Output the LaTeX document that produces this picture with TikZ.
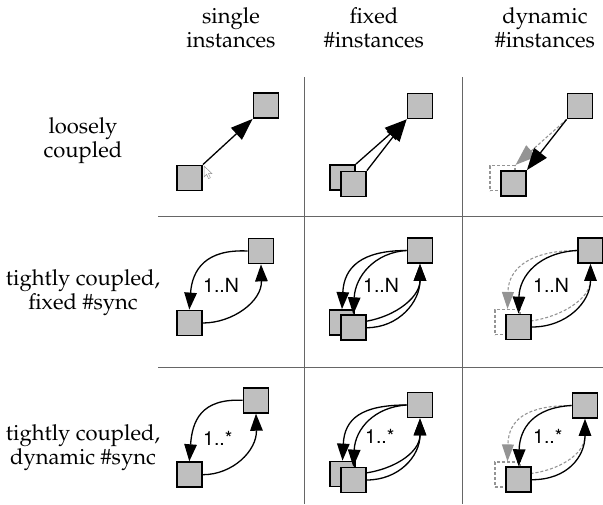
\documentclass[tikz,border=0pt]{standalone}
\usepackage[T1]{fontenc}
\usepackage{mathpazo}
\usepackage{helvet}
\usetikzlibrary{arrows.meta}

\definecolor{boxgray}{gray}{0.75}
\definecolor{ghostgray}{gray}{0.58}
\definecolor{rulegray}{gray}{0.4}

\begin{document}
\begin{tikzpicture}[x=1pt,y=-1pt,
  box/.style={draw=black,fill=boxgray,line width=1.8pt,minimum size=25pt,inner sep=0pt},
  ghost/.style={draw=ghostgray,dash pattern=on 3pt off 2pt,line width=1.2pt,minimum size=25pt,inner sep=0pt},
  msg/.style={line width=1.3pt,-{Triangle[length=22pt,width=16pt]}},
  ghostmsg/.style={draw=ghostgray,line width=1.1pt,dash pattern=on 3pt off 2pt,-{Triangle[length=21pt,width=15pt,fill=ghostgray]}},
  sync/.style={line width=1.3pt,-{Triangle[length=17pt,width=12.5pt]}},
  ghostsync/.style={draw=ghostgray,line width=1.1pt,dash pattern=on 3pt off 2pt,-{Triangle[length=17pt,width=12pt,fill=ghostgray]}},
  rule/.style={draw=rulegray,line width=1pt},
  serif/.style={font=\fontsize{22}{24}\selectfont,anchor=base,inner sep=0pt},
  mult/.style={font=\sffamily\fontsize{19.5}{22}\selectfont,anchor=base west,inner sep=0pt},
  cursor/.style={draw=ghostgray,fill=white,line width=0.5pt}]

\useasboundingbox (0,0) rectangle (603,504);

% table rules
\coordinate (v1t) at (304,77);  \coordinate (v1b) at (304,504);
\coordinate (v2t) at (462,77);  \coordinate (v2b) at (462,504);
\coordinate (h1l) at (158,216); \coordinate (h1r) at (603,216);
\coordinate (h2l) at (158,367); \coordinate (h2r) at (603,367);
\draw[rule] (v1t) -- (v1b);
\draw[rule] (v2t) -- (v2b);
\draw[rule] (h1l) -- (h1r);
\draw[rule] (h2l) -- (h2r);

% column headings
\node[serif] (c1a) at (231,23) {single};
\node[serif] (c1b) at (231,47) {instances};
\node[serif] (c2a) at (374,23) {fixed};
\node[serif] (c2b) at (374,47) {\#instances};
\node[serif] (c3a) at (545,23) {dynamic};
\node[serif] (c3b) at (545,47) {\#instances};

% row headings
\node[serif] (r1a) at (83,133) {loosely};
\node[serif] (r1b) at (83,157) {coupled};
\node[serif] (r2a) at (83,285) {tightly coupled,};
\node[serif] (r2b) at (83,309) {fixed \#sync};
\node[serif] (r3a) at (83,440) {tightly coupled,};
\node[serif] (r3b) at (83,464) {dynamic \#sync};

% ---- loosely coupled ----
% single instances
\node[box] (a1) at (266,105.5) {};
\node[box] (a0) at (189.5,178) {};
\draw[msg] (a0.north east) -- (a1.south west);
\coordinate (cur) at (204,166);
\draw[cursor] (cur) -- ++(0,11) -- ++(2.6,-2.6) -- ++(2,4.2) -- ++(1.8,-0.9) -- ++(-2,-4) -- ++(3.6,0) -- cycle;

% fixed number of instances
\node[box] (b1) at (420,106) {};
\node[box] (b0) at (342.5,177.5) {};
\draw[msg] (b0.north east) -- (b1.south west);
\node[box] (b0f) at (353.5,184) {};
\draw[msg] (b0f.north east) -- (b1.south west);

% dynamic number of instances
\node[box] (c1) at (580,106) {};
\node[ghost] (c0g) at (502.5,178) {};
\draw[ghostmsg] (c1.south west) -- (c0g.north east);
\node[box] (c0) at (513.5,183.5) {};
\draw[msg] (c1.south west) -- (c0.north east);

% ---- tightly coupled, fixed #sync ----
\node[box] (d1) at (261,251) {};
\node[box] (d0) at (189.3,323) {};
\draw[sync] (d1.west) .. controls +(-42,-2) and +(3,-40) .. (d0.north);
\draw[sync] (d0.east) .. controls +(30,0) and +(1,37) .. (d1.south);
\node[mult] (n1) at (203,292.5) {1..N};

\node[box] (e1) at (420,250.5) {};
\node[box] (e0) at (342,322.5) {};
\draw[sync] (e1.west) .. controls +(-45,0) and +(2,-42) .. (e0.north);
\draw[sync] (e0.east) .. controls +(35,-2) and +(0,35) .. (e1.south);
\node[box] (e0f) at (353.3,327.7) {};
\draw[sync] (e1.west) .. controls +(-32,2) and +(2,-38) .. (e0f.north);
\draw[sync] (e0f.east) .. controls +(32,0) and +(0,38) .. (e1.south);
\node[mult] (n2) at (363,292.5) {1..N};

\node[box] (f1) at (590.5,250.5) {};
\node[ghost] (f0g) at (507.5,322) {};
\draw[ghostsync] (f1.west) .. controls +(-45,0) and +(1,-42) .. (f0g.north);
\draw[ghostsync] (f0g.east) .. controls +(38,-2) and +(0,35) .. (f1.south);
\node[box] (f0) at (518.5,327) {};
\draw[sync] (f1.west) .. controls +(-38,2) and +(1,-38) .. (f0.north);
\draw[sync] (f0.east) .. controls +(35,0) and +(0,38) .. (f1.south);
\node[mult] (n3) at (533,292.5) {1..N};

% ---- tightly coupled, dynamic #sync ----
\node[box] (g1) at (256,400.3) {};
\node[box] (g0) at (189.3,474.7) {};
\draw[sync] (g1.west) .. controls +(-42,-2) and +(3,-40) .. (g0.north);
\draw[sync] (g0.east) .. controls +(30,0) and +(1,37) .. (g1.south);
\node[mult] (m1) at (203,445) {1..*};

\node[box] (h1) at (420,405) {};
\node[box] (h0) at (342.5,474) {};
\draw[sync] (h1.west) .. controls +(-45,0) and +(2,-42) .. (h0.north);
\draw[sync] (h0.east) .. controls +(35,-2) and +(0,35) .. (h1.south);
\node[box] (h0f) at (353.3,480) {};
\draw[sync] (h1.west) .. controls +(-32,2) and +(2,-38) .. (h0f.north);
\draw[sync] (h0f.east) .. controls +(32,0) and +(0,38) .. (h1.south);
\node[mult] (m2) at (365,443.5) {1..*};

\node[box] (i1) at (585,405.5) {};
\node[ghost] (i0g) at (507.5,474.5) {};
\draw[ghostsync] (i1.west) .. controls +(-45,0) and +(1,-42) .. (i0g.north);
\draw[ghostsync] (i0g.east) .. controls +(38,-2) and +(0,35) .. (i1.south);
\node[box] (i0) at (518.7,479.7) {};
\draw[sync] (i1.west) .. controls +(-38,2) and +(1,-38) .. (i0.north);
\draw[sync] (i0.east) .. controls +(35,0) and +(0,38) .. (i1.south);
\node[mult] (m3) at (533,443.5) {1..*};

\end{tikzpicture}
\end{document}
